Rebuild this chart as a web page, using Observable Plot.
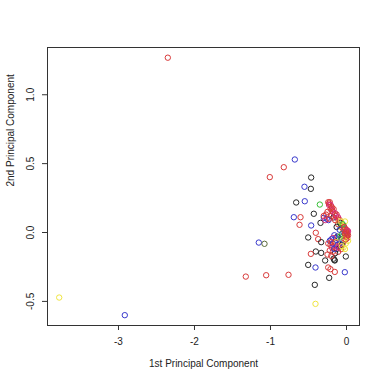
<!DOCTYPE html>
<html>
<head>
<meta charset="utf-8">
<script src="https://cdn.jsdelivr.net/npm/d3@7"></script>
<script src="https://cdn.jsdelivr.net/npm/@observablehq/plot@0.6"></script>
<style>
html,body{margin:0;padding:0;background:#fff;}
svg{display:block;}
</style>
</head>
<body>
<div id="chart"></div>
<script>
// PC1 values
const pc1 = [
 -2.351,-3.78,-2.917,-0.680,-0.825,-1.009,-0.465,-0.469,-0.553,-0.662,-0.549,-0.351,-0.430,-0.693,-0.605,-0.618,-0.465,-0.342,-0.298,-0.237,
 -0.404,-0.504,-0.373,-0.333,-1.154,-1.079,-0.404,-0.333,-0.469,-0.281,-0.154,-0.009,-0.504,-0.408,-0.241,-0.211,-0.154,-0.022,-0.228,-0.417,
 -0.408,-1.325,-1.057,-0.763,
 -0.24,-0.22,-0.23,-0.20,-0.21,-0.19,-0.25,-0.27,-0.18,-0.16,-0.20,-0.17,-0.14,-0.12,-0.15,-0.10,-0.08,-0.11,-0.06,-0.04,
 -0.07,-0.05,-0.02,-0.03,0.00,0.01,-0.01,0.00,-0.02,0.01,-0.04,-0.06,-0.03,-0.05,-0.08,-0.01,-0.10,-0.12,-0.14,-0.16,
 -0.18,-0.20,-0.22,-0.15,-0.12,-0.09,-0.07,-0.04,-0.13,-0.17,-0.19,-0.21,-0.11,-0.15,-0.18,-0.22,-0.06,-0.02,-0.24,-0.26,
 -0.30,-0.28,-0.23,-0.13,-0.09,-0.16,-0.17,-0.20,-0.25,-0.13,-0.08,-0.02,0.02,-0.03,0.02,0.01,
 -0.23,-0.21,-0.19,-0.17,-0.15,-0.13,-0.11,-0.09,-0.07,-0.05,-0.03,0.00,0.01,-0.02,-0.01,0.02,-0.04,-0.09,-0.14,-0.18,
 -0.20,-0.16,-0.11,-0.06,-0.01,0.00
];
// PC2 values
const pc2 = [
 1.269,-0.472,-0.600,0.530,0.474,0.402,0.399,0.317,0.332,0.218,0.227,0.203,0.136,0.111,0.111,0.056,0.051,0.070,0.107,0.090,
 -0.002,-0.036,-0.048,-0.070,-0.073,-0.082,-0.138,-0.148,-0.155,-0.203,-0.203,-0.174,-0.235,-0.254,-0.254,-0.266,-0.286,-0.288,-0.329,-0.380,
 -0.518,-0.320,-0.310,-0.307,
 0.22,0.22,0.20,0.19,0.17,0.16,0.15,0.13,0.15,0.13,0.12,0.11,0.12,0.10,0.09,0.08,0.07,0.06,0.06,0.05,
 0.04,0.03,0.03,0.01,0.01,0.00,-0.01,-0.02,-0.03,-0.04,-0.02,-0.01,-0.06,-0.08,-0.07,-0.08,-0.05,-0.03,-0.04,-0.02,
 -0.04,-0.05,-0.06,-0.07,-0.09,-0.10,-0.12,-0.11,-0.12,-0.10,-0.11,-0.09,-0.14,-0.15,-0.14,-0.13,-0.09,-0.12,-0.08,0.10,
 0.12,0.09,0.10,0.04,0.02,-0.20,-0.19,-0.17,-0.16,-0.07,-0.03,0.08,-0.06,0.02,0.01,-0.01,
 0.21,0.20,0.18,0.17,0.14,0.13,0.11,0.09,0.08,0.06,0.04,0.02,0.01,-0.01,0.00,-0.02,-0.05,-0.08,-0.10,-0.08,
 -0.07,-0.12,-0.11,-0.10,-0.05,-0.03
];
// group (colour) of each point
const group = [
 "r","y","b","b","r","r","k","k","b","k","b","g","k","b","r","r","b","k","b","b",
 "r","k","r","k","b","o","k","k","r","k","k","k","k","b","r","r","r","b","k","k",
 "y","r","r","r",
 "r","r","m","r","r","m","r","r","r","m","r","k","r","m","r","y","k","r","g","k",
 "y","r","m","y","r","r","m","r","y","r","b","g","y","r","m","y","b","k","b","b",
 "m","b","b","r","b","m","r","y","k","r","m","r","r","k","r","r","k","y","r","b",
 "r","m","r","k","b","k","k","r","r","y","g","y","y","r","m","r",
 "r","m","r","r","m","r","m","r","y","g","r","r","m","r","r","r","y","b","m","b",
 "r","b","m","y","r","r"
];
const groupKeys = ["k","r","g","b","y","m","o"];
const groupColors = ["#262626","#d93a3a","#35c035","#3838cc","#f0e640","#d83080","#5a6a3a"];

const xTicks = [-3,-2,-1,0];
const yTicks = [-0.5,0.0,0.5,1.0];

const data = pc1.map((x,i)=>({x, y: pc2[i], g: group[i]}));

const font = "'Liberation Sans', Arial, Helvetica, sans-serif";
const chart = Plot.plot({
  width: 384,
  height: 384,
  marginLeft: 47,
  marginRight: 25,
  marginTop: 47,
  marginBottom: 59,
  style: {fontFamily: font, fontSize: "10px", background: "#fff", color: "#222"},
  x: {domain: [-3.934, 0.171]},
  y: {domain: [-0.675, 1.343]},
  color: {domain: groupKeys, range: groupColors},
  marks: [
    Plot.dot(data, {x:"x", y:"y", stroke:"g", r:2.7, strokeWidth:1, fill:"none"}),
    Plot.frame({stroke:"#333", strokeWidth:1}),
    Plot.axisX({ticks: xTicks, tickSize: 5, tickPadding: 7, tickFormat: d => String(d), stroke:"#333", fill:"#222", label: null, fontSize: 10}),
    Plot.axisY({ticks: yTicks, tickSize: 5, tickFormat: () => "", stroke:"#333", label: null}),
    Plot.text(yTicks, {y: d => d, text: d => d.toFixed(1), frameAnchor: "left", dx: -17, rotate: -90, textAnchor: "middle", fill:"#222", fontSize: 10}),
    Plot.text(["1st Principal Component"], {frameAnchor: "bottom", dy: 41, fill:"#222", fontSize: 10}),
    Plot.text(["2nd Principal Component"], {frameAnchor: "left", dx: -37, rotate: -90, fill:"#222", fontSize: 10})
  ]
});
document.getElementById("chart").appendChild(chart);
</script>
</body>
</html>
